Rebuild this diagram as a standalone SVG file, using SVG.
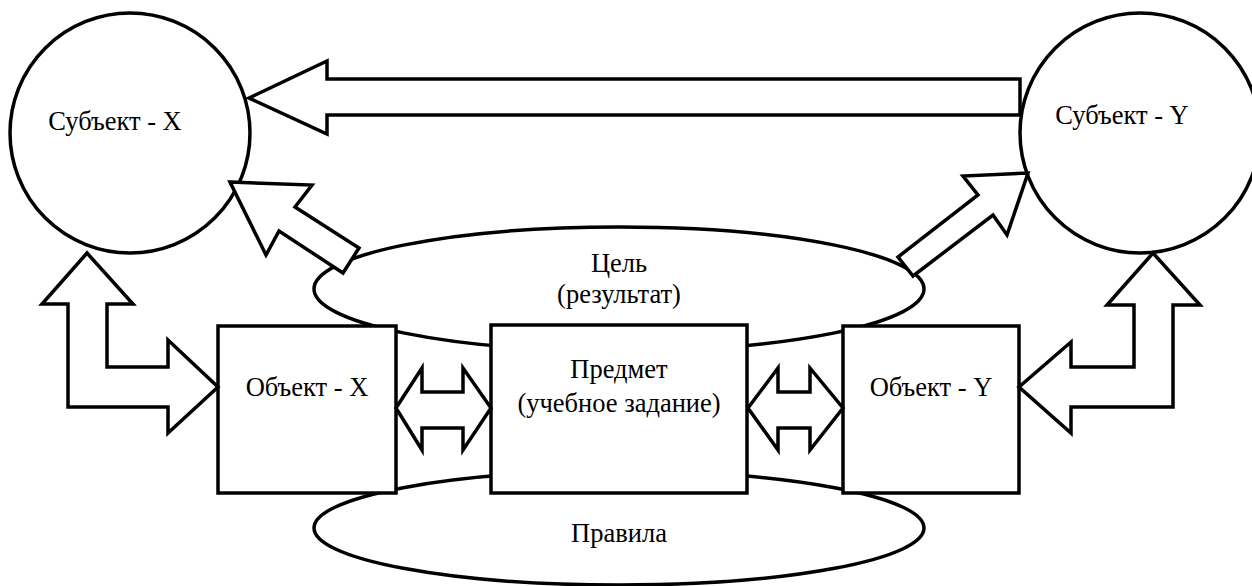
<svg xmlns="http://www.w3.org/2000/svg" width="1252" height="586" viewBox="0 0 1252 586">
  <style>
    .shape { fill: #ffffff; stroke: #000000; stroke-width: 3.5; }
    .arrow { fill: #ffffff; stroke: #000000; stroke-width: 3.5; stroke-linejoin: miter; }
    .label { font-family: "Liberation Serif", "Times New Roman", serif; font-size: 26.5px; fill: #000000; text-anchor: middle; }
  </style>
  <rect width="1252" height="586" fill="#ffffff"/>

  <!-- background ellipses: goal and rules -->
  <g id="goal">
    <ellipse class="shape" cx="619" cy="289" rx="305" ry="62"/>
    <text class="label" x="619" y="272">Цель</text>
    <text class="label" x="619" y="303">(результат)</text>
  </g>
  <g id="rules">
    <ellipse class="shape" cx="619" cy="528" rx="305" ry="57"/>
    <text class="label" x="619" y="542">Правила</text>
  </g>

  <!-- subjects -->
  <g id="subject-x">
    <circle class="shape" cx="130" cy="133" r="120"/>
    <text class="label" x="115" y="130">Субъект - X</text>
  </g>
  <g id="subject-y">
    <circle class="shape" cx="1140" cy="133" r="120"/>
    <text class="label" x="1122" y="124">Субъект - Y</text>
  </g>

  <!-- objects and subject matter -->
  <g id="object-x">
    <rect class="shape" x="218" y="326" width="178" height="167"/>
    <text class="label" x="307" y="396">Объект - X</text>
  </g>
  <g id="subject-matter">
    <rect class="shape" x="491" y="325" width="256" height="168"/>
    <text class="label" x="619" y="378">Предмет</text>
    <text class="label" x="619" y="412">(учебное задание)</text>
  </g>
  <g id="object-y">
    <rect class="shape" x="843" y="326" width="176" height="167"/>
    <text class="label" x="931" y="396">Объект - Y</text>
  </g>

  <!-- block arrows -->
  <g id="connectors">
    <!-- Y to X along the top -->
    <path class="arrow" d="M249,98 L327,61 L327,79 L1020,79 L1020,115 L327,115 L327,134 Z"/>
    <!-- goal to subject X -->
    <path class="arrow" d="M230,182 L312,185 L295,207 L359,248 L343,273 L279,231 L266,255 Z"/>
    <!-- goal to subject Y -->
    <path class="arrow" d="M1028,173 L1007,235 L993,215 L913,276 L898,257 L978,195 L963,176 Z"/>
    <!-- subject X with object X -->
    <path class="arrow" d="M87,253 L133,304 L107,304 L107,367 L168,367 L168,340 L218,387 L168,433 L168,407 L68,407 L68,304 L42,304 Z"/>
    <!-- subject Y with object Y -->
    <path class="arrow" d="M1153,253 L1200,305 L1173,305 L1173,407 L1071,407 L1071,433 L1019,387 L1071,342 L1071,367 L1134,367 L1134,305 L1107,305 Z"/>
    <!-- object X with subject matter -->
    <path class="arrow" d="M396,408 L422,368 L422,392 L463,392 L463,368 L491,408 L463,450 L463,428 L422,428 L422,450 Z"/>
    <!-- subject matter with object Y -->
    <path class="arrow" d="M748,408 L778,368 L778,392 L810,392 L810,368 L843,408 L810,450 L810,428 L778,428 L778,450 Z"/>
  </g>
</svg>
